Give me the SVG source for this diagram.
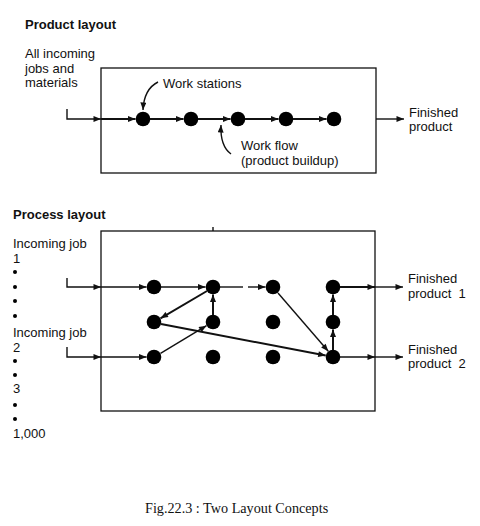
<svg xmlns="http://www.w3.org/2000/svg" width="480" height="526" viewBox="0 0 480 526">
<style>
.t{font-family:"Liberation Sans",Arial,sans-serif;font-size:13px;fill:#111;white-space:pre}
.b{font-weight:bold}
.cap{font-family:"Liberation Serif","Times New Roman",serif;font-size:14.2px;fill:#111}
.box{fill:none;stroke:#111;stroke-width:1.3}
.ln{fill:none;stroke:#111;stroke-width:1.4}
.thk{fill:none;stroke:#111;stroke-width:2}
.dot{fill:#000}
</style>
<defs>
<marker id="ah" viewBox="0 0 10 8" refX="10" refY="4" markerWidth="9" markerHeight="6" markerUnits="userSpaceOnUse" orient="auto">
<path d="M0,0 L10,4 L0,8 Z" fill="#111"/>
</marker>
</defs>
<rect width="480" height="526" fill="#fff"/>

<g id="product-layout">
<text class="t b" x="25" y="29">Product layout</text>
<text class="t" x="25" y="58">All incoming</text>
<text class="t" x="25" y="73">jobs and</text>
<text class="t" x="25" y="87">materials</text>
<rect id="product-box" class="box" x="101" y="68" width="275" height="105"/>
<text class="t" x="163" y="88">Work stations</text>
<text class="t" x="241" y="150">Work flow</text>
<text class="t" x="241" y="165">(product buildup)</text>
<text class="t" x="409" y="117">Finished</text>
<text class="t" x="409" y="131">product</text>
</g>
<g id="product-stations">
<circle class="dot" cx="143" cy="119" r="7.3"/>
<circle class="dot" cx="191" cy="119" r="7.3"/>
<circle class="dot" cx="238" cy="119" r="7.3"/>
<circle class="dot" cx="286" cy="119" r="7.3"/>
<circle class="dot" cx="334" cy="119" r="7.3"/>
</g>

<g id="process-layout">
<text class="t b" x="13" y="219">Process layout</text>
<rect id="process-box" class="box" x="101" y="231" width="274" height="180"/>
<line class="ln" x1="213" y1="227" x2="213" y2="231"/>
<text class="t" x="13" y="248">Incoming job</text>
<text class="t" x="13" y="263">1</text>
<text class="t" x="13" y="337">Incoming job</text>
<text class="t" x="13" y="352">2</text>
<text class="t" x="13" y="393">3</text>
<text class="t" x="13" y="438">1,000</text>
<g class="dot">
<circle cx="15" cy="272" r="2"/>
<circle cx="15" cy="287" r="2"/>
<circle cx="15" cy="301" r="2"/>
<circle cx="15" cy="316" r="2"/>
<circle cx="15" cy="361" r="2"/>
<circle cx="15" cy="375" r="2"/>
<circle cx="15" cy="405" r="2"/>
<circle cx="15" cy="419" r="2"/>
</g>
<text class="t" x="408" y="283">Finished</text>
<text class="t" x="408" y="298" xml:space="preserve">product  1</text>
<text class="t" x="408" y="354">Finished</text>
<text class="t" x="408" y="368" xml:space="preserve">product  2</text>
</g>
<g id="process-stations">
<circle class="dot" cx="154" cy="287" r="7.3"/>
<circle class="dot" cx="213" cy="287" r="7.3"/>
<circle class="dot" cx="273" cy="287" r="7.3"/>
<circle class="dot" cx="333" cy="287" r="7.3"/>
<circle class="dot" cx="154" cy="322" r="7.3"/>
<circle class="dot" cx="213" cy="322" r="7.3"/>
<circle class="dot" cx="273" cy="322" r="7.3"/>
<circle class="dot" cx="333" cy="322" r="7.3"/>
<circle class="dot" cx="154" cy="357" r="7.3"/>
<circle class="dot" cx="213" cy="357" r="7.3"/>
<circle class="dot" cx="273" cy="357" r="7.3"/>
<circle class="dot" cx="333" cy="357" r="7.3"/>
</g>

<g id="connectors">
<path class="ln" d="M67,109 V119 H101" marker-end="url(#ah)"/>
<path class="thk" d="M101,119 H135.5" marker-end="url(#ah)"/>
<path class="thk" d="M150,119 H183.5" marker-end="url(#ah)"/>
<path class="thk" d="M198,119 H230.5" marker-end="url(#ah)"/>
<path class="thk" d="M245,119 H278.5" marker-end="url(#ah)"/>
<path class="thk" d="M293,119 H326.5" marker-end="url(#ah)"/>
<path class="ln" d="M376,119 H404" marker-end="url(#ah)"/>
<path class="ln" d="M158,82 Q144,89 143,110" marker-end="url(#ah)"/>
<path class="ln" d="M231,154 Q220,146 221,125" marker-end="url(#ah)"/>
<path class="ln" d="M67,278 V287 H101" marker-end="url(#ah)"/>
<path class="ln" d="M101,287 H146.5" marker-end="url(#ah)"/>
<path class="ln" d="M67,347 V357 H101" marker-end="url(#ah)"/>
<path class="ln" d="M101,357 H146.5" marker-end="url(#ah)"/>
<path class="ln" d="M161,287 H205.5" marker-end="url(#ah)"/>
<path class="ln" d="M220,287 H243"/>
<path class="ln" d="M248,287 H265.5" marker-end="url(#ah)"/>
<path class="thk" d="M207,291 L160.5,318.3" marker-end="url(#ah)"/>
<path class="thk" d="M213,315 V294.5" marker-end="url(#ah)"/>
<path class="ln" d="M160.5,353.3 L206.5,325.7" marker-end="url(#ah)"/>
<path class="thk" d="M161,324 L325.7,355.5" marker-end="url(#ah)"/>
<path class="ln" d="M278,293 L328.3,351.3" marker-end="url(#ah)"/>
<path class="thk" d="M333,350 V329.5" marker-end="url(#ah)"/>
<path class="thk" d="M333,315 V294.5" marker-end="url(#ah)"/>
<path class="thk" d="M340,287 H375" marker-end="url(#ah)"/>
<path class="ln" d="M375,287 H403" marker-end="url(#ah)"/>
<path class="ln" d="M340,357 H375" marker-end="url(#ah)"/>
<path class="ln" d="M375,357 H403" marker-end="url(#ah)"/>
</g>

<text class="cap" x="145" y="513">Fig.22.3 : Two Layout Concepts</text>
</svg>
